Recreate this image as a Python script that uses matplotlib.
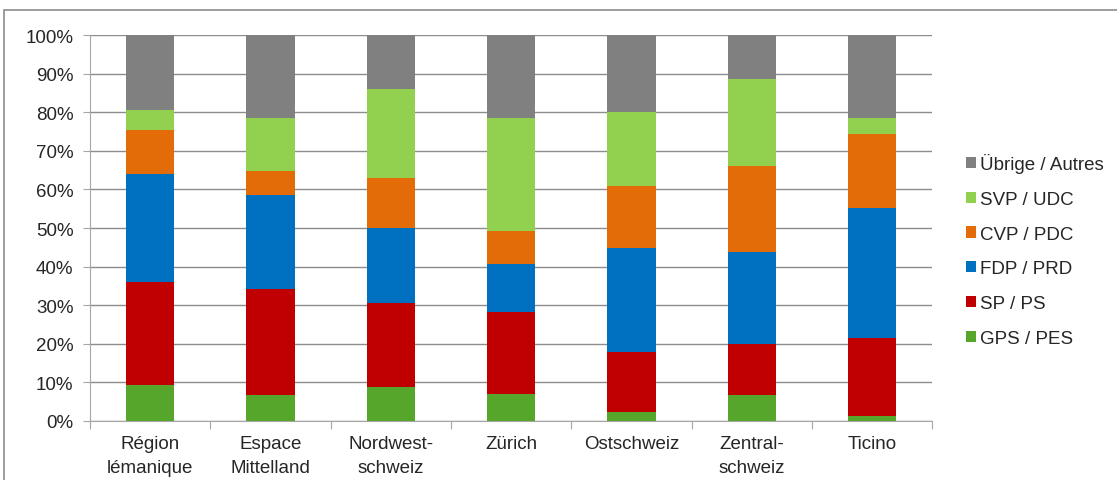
import numpy as np
import matplotlib.pyplot as plt
from matplotlib.patches import Rectangle
from matplotlib.ticker import FixedLocator, PercentFormatter

plt.rcParams['font.family'] = ['Liberation Sans', 'DejaVu Sans']

regions = ['Région\nlémanique', 'Espace\nMittelland', 'Nordwest-\nschweiz', 'Zürich',
           'Ostschweiz', 'Zentral-\nschweiz', 'Ticino']

# Parteistärken in % (von unten nach oben)
gps = [9.3, 6.7, 8.8, 7.1, 2.2, 6.8, 1.3]
sp = [26.6, 27.4, 21.9, 21.2, 15.7, 13.1, 20.3]
fdp = [28.1, 24.5, 19.2, 12.5, 27.0, 23.8, 33.5]
cvp = [11.4, 6.1, 13.0, 8.5, 16.1, 22.5, 19.2]
svp = [5.2, 13.9, 23.0, 29.3, 19.1, 22.3, 4.3]
uebrige = [19.4, 21.4, 14.1, 21.4, 19.9, 11.5, 21.4]

series = [gps, sp, fdp, cvp, svp, uebrige]
names = ['GPS / PES', 'SP / PS', 'FDP / PRD', 'CVP / PDC', 'SVP / UDC', 'Übrige / Autres']
colors = ['#56a62b', '#c00000', '#0070c0', '#e36c09', '#92d050', '#808080']

fs = 13.5

fig = plt.figure(figsize=(11.17, 4.81), dpi=100)
ax = fig.add_axes([0.0806, 0.1227, 0.754, 0.8023])

x = np.arange(len(regions))
bottom = np.zeros(len(regions))
handles = []
for vals, name, col in zip(series, names, colors):
    b = ax.bar(x, vals, 0.4, bottom=bottom, color=col, label=name, zorder=3)
    handles.append(b)
    bottom += np.array(vals)

ax.set_xlim(-0.5, len(regions) - 0.5)
ax.set_ylim(0, 100)
ax.yaxis.set_major_locator(FixedLocator(np.arange(0, 101, 10)))
ax.yaxis.set_major_formatter(PercentFormatter(decimals=0))
ax.grid(axis='y', color='#8c8c8c', lw=1, zorder=0)

ax.xaxis.set_major_locator(FixedLocator(np.arange(-0.5, len(regions), 1)))
ax.xaxis.set_major_formatter(plt.NullFormatter())
ax.xaxis.set_minor_locator(FixedLocator(x))
ax.set_xticklabels(regions, minor=True, linespacing=1.55)
ax.tick_params(axis='x', which='major', length=6, color='#a6a6a6')
ax.tick_params(axis='x', which='minor', length=0, pad=10, labelsize=fs, labelcolor='#262626')
ax.tick_params(axis='y', length=5, color='#a6a6a6', labelsize=fs, pad=7, labelcolor='#262626')

for s in ['top', 'right']:
    ax.spines[s].set_visible(False)
for s in ['left', 'bottom']:
    ax.spines[s].set_color('#a6a6a6')

leg = fig.legend(handles[::-1], names[::-1], loc='upper left',
                 bbox_to_anchor=(966 / 1117, 1 - 154 / 481), frameon=False, fontsize=fs,
                 handlelength=0.55, handleheight=0.55, handletextpad=0.2,
                 labelspacing=0.95, borderpad=0, borderaxespad=0)
for t in leg.get_texts():
    t.set_color('#262626')

fig.patches.append(Rectangle((4 / 1117, -0.1), 1.2, 1 - 11 / 481 + 0.1,
                             transform=fig.transFigure, fill=False,
                             edgecolor='#8c8c8c', lw=1.2))

fig.savefig('out.png', dpi=100)
